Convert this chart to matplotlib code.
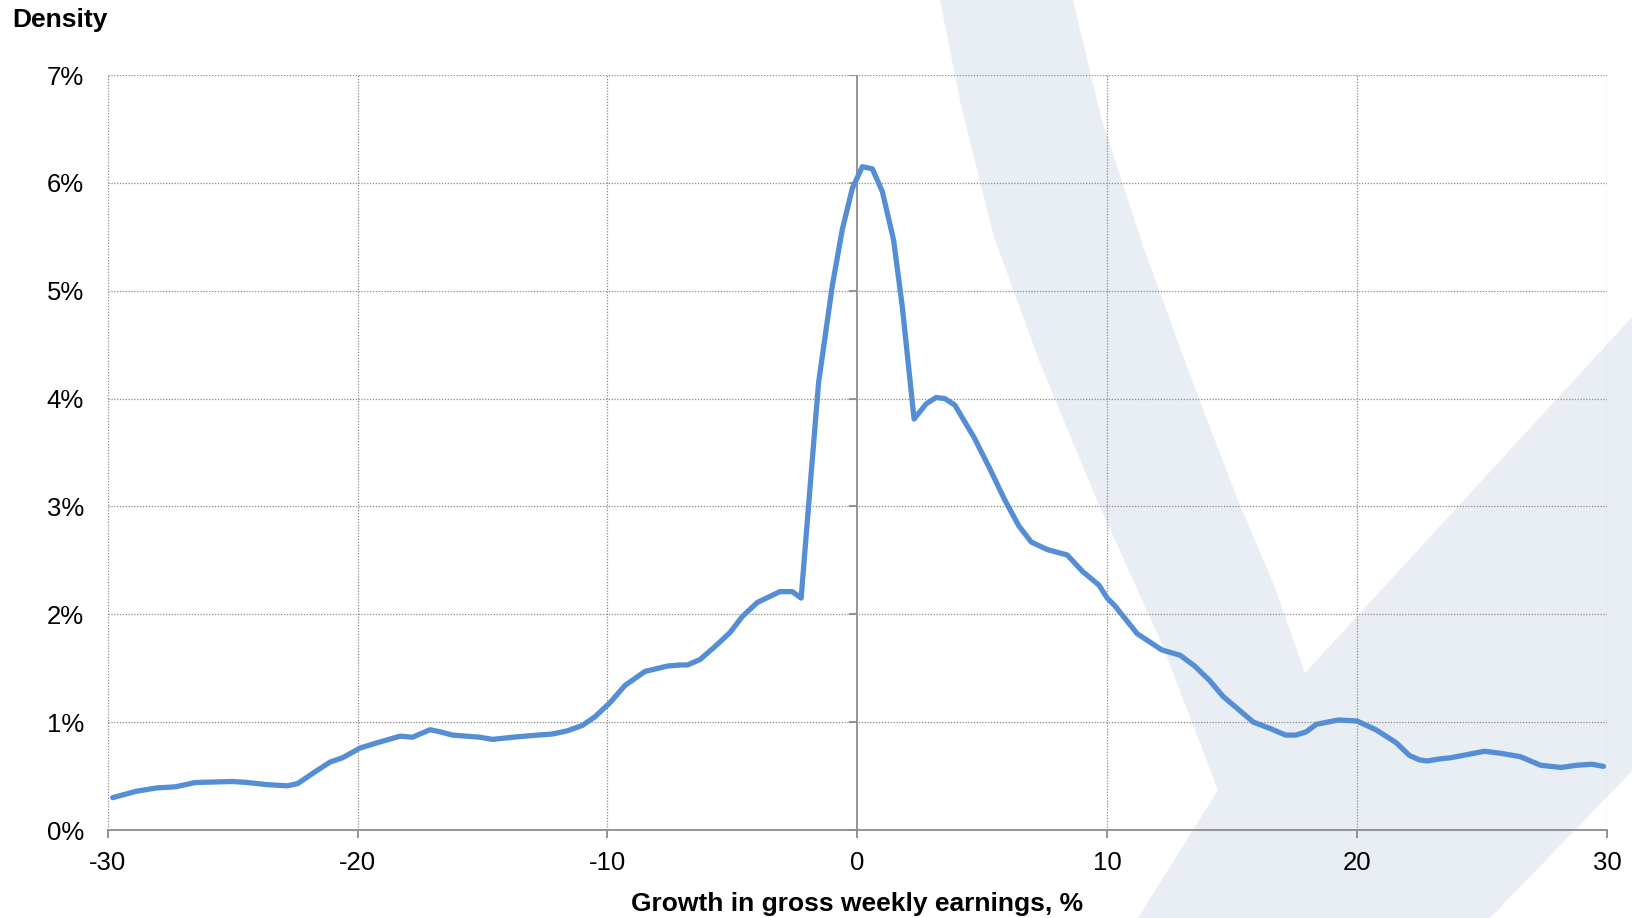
import matplotlib
matplotlib.use("Agg")
import matplotlib.pyplot as plt
from matplotlib.patches import Polygon

plt.rcParams["font.family"] = ["Liberation Sans", "DejaVu Sans"]

# density curve (x = growth %, y = density %)
growth = [-29.8, -28.84, -28.04, -27.3, -26.5, -25.0, -24.4, -23.6, -22.8, -22.4,
          -21.7, -21.1, -20.6, -19.9, -19.2, -18.3, -17.8, -17.1, -16.7, -16.2,
          -15.1, -14.6, -13.8, -12.8, -12.2, -11.6, -11.0, -10.5, -9.9, -9.3,
          -8.5, -7.6, -7.1, -6.8, -6.3, -5.75, -5.1, -4.6, -4.0, -3.1,
          -2.6, -2.25, -1.85, -1.55, -1.0, -0.6, -0.2, 0.2, 0.6, 1.0,
          1.45, 1.8, 2.27, 2.75, 3.15, 3.5, 3.9, 4.67, 5.3, 5.9,
          6.46, 6.96, 7.6, 8.4, 9.0, 9.67, 10.0, 10.3, 11.2, 12.18,
          12.92, 13.5, 14.08, 14.63, 15.85, 16.53, 17.14, 17.55, 17.96, 18.37,
          19.25, 20.0, 20.75, 21.56, 22.1, 22.5, 22.8, 23.33, 23.74, 24.42,
          25.1, 25.78, 26.53, 27.35, 28.16, 28.78, 29.39, 29.86]
density = [0.30, 0.36, 0.39, 0.40, 0.44, 0.45, 0.44, 0.42, 0.41, 0.43,
           0.54, 0.63, 0.67, 0.76, 0.81, 0.87, 0.86, 0.93, 0.91, 0.88,
           0.86, 0.84, 0.86, 0.88, 0.89, 0.92, 0.97, 1.05, 1.18, 1.34,
           1.47, 1.52, 1.53, 1.53, 1.58, 1.69, 1.83, 1.98, 2.11, 2.21,
           2.21, 2.15, 3.30, 4.15, 5.05, 5.57, 5.95, 6.15, 6.13, 5.92,
           5.47, 4.85, 3.81, 3.95, 4.01, 4.00, 3.94, 3.64, 3.35, 3.06,
           2.82, 2.67, 2.60, 2.55, 2.40, 2.27, 2.15, 2.08, 1.82, 1.67,
           1.62, 1.52, 1.39, 1.24, 1.00, 0.94, 0.88, 0.88, 0.91, 0.98,
           1.02, 1.01, 0.93, 0.81, 0.69, 0.65, 0.64, 0.66, 0.67, 0.70,
           0.73, 0.71, 0.68, 0.60, 0.58, 0.60, 0.61, 0.59]

xticks = [-30, -20, -10, 0, 10, 20, 30]
yticks = [0, 1, 2, 3, 4, 5, 6, 7]

# background logo watermark outline (figure pixels, y from top)
W, H = 1633, 918
logo = [(940, 0), (961, 105), (993, 234), (1040, 363), (1096, 498), (1162, 644),
        (1218, 790), (1138, 918), (1490, 918), (1633, 770), (1633, 316),
        (1305, 673), (1274, 585), (1237, 498), (1190, 375), (1143, 246),
        (1101, 117), (1073, 0)]

fig = plt.figure(figsize=(W / 100, H / 100), dpi=100)
fig.patches.append(Polygon([(x / W, 1 - y / H) for x, y in logo], closed=True,
                           transform=fig.transFigure, facecolor="#E8EEF3",
                           edgecolor="none", zorder=-10))

ax = fig.add_axes([107.7 / W, 1 - 830 / H, (1607 - 107.7) / W, (830 - 75) / H])
ax.set_zorder(1)
ax.patch.set_alpha(0)

grid_kw = dict(color="#8a8a8a", lw=0.9, linestyle=(0, (1, 1.3)), zorder=1)
for x in xticks:
    if x != 0:
        ax.axvline(x, **grid_kw)
for y in yticks[1:]:
    ax.axhline(y, **grid_kw)

ax.axvline(0, color="#8c8c8c", lw=1.3, zorder=2)
ax.plot([0] * len(yticks), yticks, linestyle="none", marker=0, markersize=6,
        markeredgecolor="#8c8c8c", markeredgewidth=1.3, zorder=2)

ax.plot(growth, density, color="#558ED5", lw=3.8, solid_capstyle="round",
        solid_joinstyle="round", zorder=3)

ax.set_xlim(-30, 30)
ax.set_ylim(0, 7)
ax.set_xticks(xticks)
ax.set_xticklabels([str(x) for x in xticks])
ax.set_yticks(yticks)
ax.set_yticklabels([f"{y}%" for y in yticks])

for s in ["top", "right", "left"]:
    ax.spines[s].set_visible(False)
ax.spines["bottom"].set_color("#8c8c8c")
ax.spines["bottom"].set_linewidth(1.3)
ax.spines["bottom"].set_zorder(2)

ax.tick_params(axis="x", length=6, width=1.3, color="#8c8c8c", pad=9,
               labelsize=18.5, labelcolor="black")
ax.tick_params(axis="y", length=0, pad=17, labelsize=18.5, labelcolor="black")

fig.text(12 / W, 1 - 27 / H, "Density", fontsize=19, fontweight="bold",
         va="baseline", ha="left")
fig.text(857 / W, 1 - 911 / H, "Growth in gross weekly earnings, %", fontsize=19,
         fontweight="bold", va="baseline", ha="center")

fig.savefig("out.png", dpi=100)
